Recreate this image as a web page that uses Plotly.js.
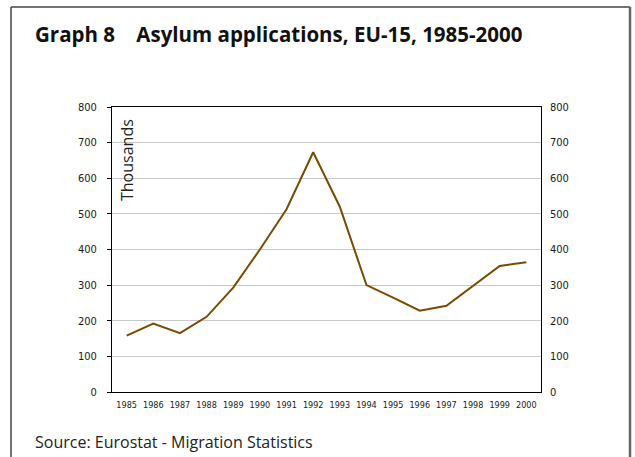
<!DOCTYPE html>
<html>
<head>
<meta charset="utf-8">
<script src="https://cdn.plot.ly/plotly-3.0.1.min.js"></script>
<style>html,body{margin:0;padding:0;background:#fff;}#chart{width:635px;height:457px;}</style>
</head>
<body>
<div id="chart"></div>
<script>
var years = ['1985','1986','1987','1988','1989','1990','1991','1992','1993','1994','1995','1996','1997','1998','1999','2000'];
var applications = [158, 192, 165, 211, 293, 400, 513, 673, 520, 300, 265, 228, 242, 298, 354, 364];
var yTicks = [0, 100, 200, 300, 400, 500, 600, 700, 800];

var traces = [
  {x: years, y: applications, type: 'scatter', mode: 'lines',
   line: {color: '#7a4a00', width: 2}, hoverinfo: 'skip', showlegend: false},
  {x: years, y: applications, type: 'scatter', mode: 'lines', yaxis: 'y2',
   line: {color: 'rgba(0,0,0,0)', width: 0}, hoverinfo: 'skip', showlegend: false}
];

var tickFont = {family: 'DejaVu Sans Condensed, Liberation Sans Narrow, sans-serif', size: 11, color: '#1a1a1a'};

var layout = {
  width: 635, height: 457,
  margin: {l: 112, r: 94, t: 107, b: 65},
  paper_bgcolor: '#fff', plot_bgcolor: '#fff',
  showlegend: false,
  title: {
    text: 'Graph 8&nbsp;&nbsp;&nbsp;&nbsp;Asylum applications, EU-15, 1985-2000',
    font: {family: 'Open Sans, Noto Sans, sans-serif', size: 20.5, color: '#111', weight: 'bold'},
    xref: 'container', yref: 'container', x: 35/635, xanchor: 'left', y: 1 - 35/457, yanchor: 'middle'
  },
  xaxis: {
    type: 'category', range: [-0.55, 15.55],
    showline: true, linecolor: '#000', linewidth: 1, mirror: true,
    showgrid: false, ticks: '', zeroline: false,
    ticklabelstandoff: 4,
    tickfont: {family: 'DejaVu Sans Condensed, Liberation Sans Narrow, sans-serif', size: 9, color: '#1a1a1a'},
    fixedrange: true
  },
  yaxis: {
    range: [0, 800], tickvals: yTicks,
    showline: true, linecolor: '#000', linewidth: 1, mirror: true,
    showgrid: true, gridcolor: '#c8c8c8', gridwidth: 1,
    ticks: 'outside', ticklen: 4, tickcolor: '#000',
    ticklabelstandoff: 8,
    zeroline: false, tickfont: tickFont, fixedrange: true
  },
  yaxis2: {
    range: [0, 800], tickvals: yTicks, overlaying: 'y', side: 'right',
    showline: false, showgrid: false, ticks: '', zeroline: false,
    ticklabelstandoff: 8,
    tickfont: tickFont, fixedrange: true
  },
  annotations: [
    {text: 'Thousands', textangle: -90, xref: 'paper', yref: 'paper',
     x: (127 - 112) / 429, y: (392 - 160) / 285, xanchor: 'center', yanchor: 'middle',
     showarrow: false, font: {family: 'Open Sans, Noto Sans, sans-serif', size: 16, color: '#222'}},
    {text: 'Source: Eurostat - Migration Statistics', xref: 'paper', yref: 'paper',
     x: (33 - 112) / 429, y: (392 - 442) / 285, xanchor: 'left', yanchor: 'middle',
     showarrow: false, font: {family: 'Open Sans, Noto Sans, sans-serif', size: 16, color: '#222'}}
  ],
  shapes: [
    {type: 'line', xref: 'paper', yref: 'paper', x0: (11 - 112) / 429, x1: (11 - 112) / 429,
     y0: (392 - 7) / 285, y1: (392 - 460) / 285, line: {color: '#444', width: 1.5}},
    {type: 'line', xref: 'paper', yref: 'paper', x0: (11 - 112) / 429, x1: (630 - 112) / 429,
     y0: (392 - 7) / 285, y1: (392 - 7) / 285, line: {color: '#444', width: 1.5}},
    {type: 'line', xref: 'paper', yref: 'paper', x0: (630 - 112) / 429, x1: (630 - 112) / 429,
     y0: (392 - 7) / 285, y1: (392 - 460) / 285, line: {color: '#666', width: 2.5}}
  ]
};

Plotly.newPlot('chart', traces, layout, {displayModeBar: false, staticPlot: true});
</script>
</body>
</html>
